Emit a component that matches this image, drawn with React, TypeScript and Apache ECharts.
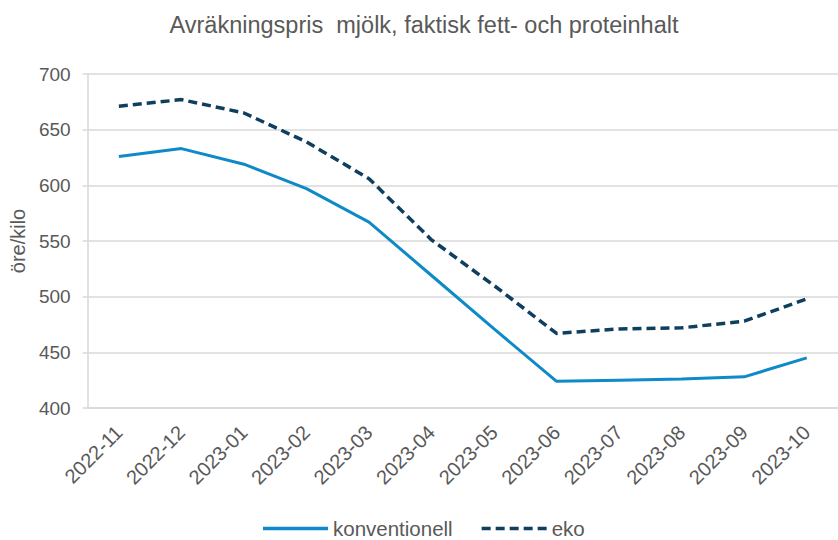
import React, { useEffect, useRef } from "react";
import * as echarts from "echarts";

const categories = [
  "2022-11", "2022-12", "2023-01", "2023-02", "2023-03", "2023-04",
  "2023-05", "2023-06", "2023-07", "2023-08", "2023-09", "2023-10",
];
const konventionell = [626, 633, 619, 597, 567, 519, 471, 424, 425, 426, 428, 445];
const eko = [671, 677, 665, 639, 606, 551, 510, 467, 471, 472, 478, 498];
const yTicks = { min: 400, max: 700, interval: 50 };

const FONT = "'Liberation Sans', Arial, sans-serif";
const TXT = "#595959";
const KONV = "#0e8ac8";
const EKO = "#0f3f5e";

const solidIcon = "path://M0,0H65V3.5H0Z";
const dashIcon =
  "path://M0,0H9V3.5H0Z M14,0H23V3.5H14Z M28,0H37V3.5H28Z M42,0H51V3.5H42Z M56,0H65V3.5H56Z";

export default function App() {
  const ref = useRef<HTMLDivElement>(null);
  useEffect(() => {
    if (!ref.current) return;
    const chart = echarts.init(ref.current, undefined, { renderer: "svg" });
    chart.setOption({
      animation: false,
      backgroundColor: "#ffffff",
      textStyle: { fontFamily: FONT, color: TXT },
      title: {
        text: "Avräkningspris  mjölk, faktisk fett- och proteinhalt",
        left: 424,
        textAlign: "center",
        top: 13,
        padding: 0,
        textStyle: { fontFamily: FONT, fontSize: 23.5, fontWeight: "normal", color: TXT },
      },
      legend: {
        left: 263,
        top: 518,
        padding: 0,
        itemWidth: 65,
        itemHeight: 3.5,
        itemGap: 29,
        textStyle: { fontFamily: FONT, fontSize: 20.5, color: TXT, lineHeight: 20 },
        data: [
          { name: "konventionell", icon: solidIcon, itemStyle: { color: KONV } },
          { name: "eko", icon: dashIcon, itemStyle: { color: EKO } },
        ],
      },
      grid: { left: 85, top: 74, width: 760, height: 334, containLabel: false },
      xAxis: {
        type: "category",
        data: categories,
        boundaryGap: true,
        axisLine: { show: true, lineStyle: { color: "#d9d9d9", width: 1.5 } },
        axisTick: { show: false },
        axisLabel: {
          rotate: 45,
          margin: 21,
          fontFamily: FONT,
          fontSize: 20,
          color: TXT,
          interval: 0,
        },
      },
      yAxis: {
        type: "value",
        min: yTicks.min,
        max: yTicks.max,
        interval: yTicks.interval,
        name: "öre/kilo",
        nameLocation: "middle",
        nameRotate: 90,
        nameGap: 56,
        nameTextStyle: { fontFamily: FONT, fontSize: 20, color: TXT },
        axisLine: { show: true, lineStyle: { color: "#d9d9d9", width: 1.5 } },
        axisTick: { show: true, inside: false, length: 5, lineStyle: { color: "#d9d9d9", width: 1.5 } },
        axisLabel: { fontFamily: FONT, fontSize: 19, color: TXT, margin: 17 },
        splitLine: { show: true, lineStyle: { color: "#d9d9d9", width: 1.5 } },
      },
      series: [
        {
          name: "konventionell",
          type: "line",
          data: konventionell,
          symbol: "none",
          showSymbol: false,
          lineStyle: { color: KONV, width: 3 },
          itemStyle: { color: KONV },
        },
        {
          name: "eko",
          type: "line",
          data: eko,
          symbol: "none",
          showSymbol: false,
          lineStyle: { color: EKO, width: 3.5, type: [9, 5] },
          itemStyle: { color: EKO },
        },
      ],
    });
    return () => chart.dispose();
  }, []);
  return (
    <div
      ref={ref}
      style={{ width: 838, height: 540, position: "absolute", left: 0, top: 0 }}
    />
  );
}
